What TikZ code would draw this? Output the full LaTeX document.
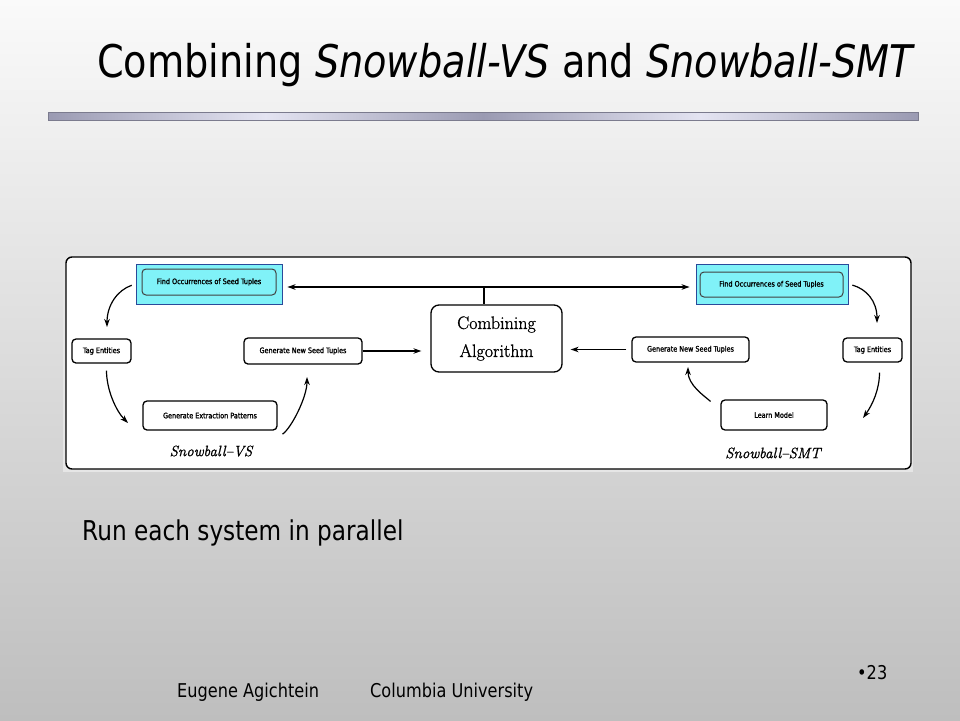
\documentclass[tikz,border=0pt]{standalone}
\usepackage{fontspec}
\setmainfont{DejaVu Sans}[FakeStretch=0.85]
\newfontfamily\lmserif{Latin Modern Roman}
\newfontfamily\lmbold{Latin Modern Roman}[FakeBold=1.2]
\newfontfamily\tinysans{DejaVu Sans}[FakeStretch=0.85,FakeBold=1.5]
\usetikzlibrary{arrows.meta,calc}
\definecolor{bgtop}{HTML}{FAFAFA}
\definecolor{bgbot}{HTML}{BEBEBE}
\definecolor{bardark}{HTML}{9A9AB2}
\definecolor{barlight}{HTML}{E4E4F2}
\definecolor{cyanfill}{HTML}{80F2F8}
\definecolor{cyanedge}{HTML}{2A4A9A}
\definecolor{imgmargin}{HTML}{E6E6E6}
\tikzset{
  stepbox/.style={draw=black, line width=1.3pt, rounded corners=4pt, fill=white, inner sep=0pt,
    font=\tinysans\fontsize{7.6}{8}\selectfont},
  cyanbox/.style={draw=cyanedge, line width=0.9pt, fill=cyanfill, inner sep=0pt},
  innerbox/.style={draw=black!75, line width=1pt, rounded corners=4pt, inner sep=0pt,
    font=\tinysans\fontsize{7.6}{8}\selectfont},
  arr/.style={line width=1.2pt, -{Stealth[length=8pt,width=5.5pt]}},
  plain/.style={line width=1.2pt},
  syslabel/.style={font=\lmbold\itshape\fontsize{15}{16}\selectfont},
}
\begin{document}
\begin{tikzpicture}[x=1pt,y=-1pt]
\shade[top color=bgtop, bottom color=bgbot] (0,0) rectangle (960,720);
\useasboundingbox (0,0) rectangle (960,720);

% title
\node[anchor=base west, inner sep=0pt, font=\fontsize{45}{48}\selectfont] (title) at (97,77)
  {Combining \textit{Snowball-VS} and \textit{Snowball-SMT}};
% rule bar
\shade[left color=bardark, right color=bardark, middle color=barlight] (48,112) rectangle (483,120);
\shade[left color=bardark, right color=bardark, middle color=barlight] (483,112) rectangle (918,120);
\draw[bardark!80!black, line width=0.6pt] (48,112) rectangle (918,120);

% embedded diagram
\fill[imgmargin] (63,254) rectangle (913,472);
\draw[line width=1.4pt, rounded corners=6pt, fill=white] (66,257) rectangle (911,469);

\node[cyanbox, minimum width=146pt, minimum height=40pt] (findL) at (209,284) {};
\node[innerbox, minimum width=134pt, minimum height=26pt] (findLi) at (209,282) {Find Occurrences of Seed Tuples};
\node[cyanbox, minimum width=152pt, minimum height=40pt] (findR) at (772,284) {};
\node[innerbox, minimum width=143pt, minimum height=25pt] (findRi) at (771.5,284.5) {Find Occurrences of Seed Tuples};

\node[stepbox, minimum width=59pt, minimum height=24pt] (tagL) at (101.5,351) {Tag Entities};
\node[stepbox, minimum width=118pt, minimum height=26pt] (genNewL) at (303,351) {Generate New Seed Tuples};
\node[stepbox, minimum width=134pt, minimum height=29pt] (genExt) at (210,415.5) {Generate Extraction Patterns};
\node[stepbox, rounded corners=8pt, minimum width=131pt, minimum height=67pt,
  font=\lmbold\fontsize{18}{28}\selectfont, align=center] (comb) at (496.5,338.5) {Combining\\Algorithm};
\node[stepbox, minimum width=117pt, minimum height=25pt] (genNewR) at (690.5,349.5) {Generate New Seed Tuples};
\node[stepbox, minimum width=59pt, minimum height=24pt] (tagR) at (872.5,350) {Tag Entities};
\node[stepbox, minimum width=106pt, minimum height=30pt] (learn) at (774,415) {Learn Model};

\node[syslabel] (vs) at (211,451) {Snowball\textendash VS};
\node[syslabel] (smt) at (773,453) {Snowball\textendash SMT};

% combining connectors
\coordinate (junc) at (484,287);
\draw[plain] (junc) -- (junc |- comb.north);
\draw[arr, shorten >=5pt] (junc) -- (junc -| findL.east);
\draw[arr, shorten >=6pt] (junc) -- (junc -| findR.west);
\draw[arr, shorten >=9pt] (genNewL.east) -- (comb.west |- genNewL.east);
\draw[arr, shorten >=8pt, shorten <=5pt] (genNewR.west) -- (comb.east |- genNewR.west);

% left cycle
\coordinate (t1) at (107,327);
\coordinate (t2) at (128,423);
\coordinate (t3) at (307,377);
\draw[arr, shorten <=4pt] (findL.west) .. controls +(-18,6) and +(0,-22) .. (t1);
\draw[arr, shorten <=7pt] ([xshift=5pt]tagL.south) .. controls +(0,26) and +(-12,-12) .. (t2);
\draw[arr, shorten <=6pt] ([yshift=-7pt]genExt.south east) .. controls +(14,-10) and +(0,20) .. (t3);

% right cycle
\coordinate (t4) at (877,323);
\coordinate (t5) at (863,418);
\coordinate (t6) at (688,367);
\draw[arr, shorten <=4pt] (findR.east) .. controls +(18,5) and +(0,-22) .. (t4);
\draw[arr, shorten <=10pt] ([xshift=7pt]tagR.south) .. controls +(0,26) and +(10,-14) .. (t5);
\draw[arr, shorten <=13pt] ([yshift=5pt]learn.west) .. controls +(-16,-14) and +(0,18) .. (t6);

% body text
\node[anchor=base west, inner sep=0pt, font=\fontsize{27.3}{32}\selectfont] (run) at (82,540) {Run each system in parallel};
% footer
\node[anchor=base west, inner sep=0pt, font=\fontsize{19}{22}\selectfont] (auth) at (177,697) {Eugene Agichtein};
\node[anchor=base west, inner sep=0pt, font=\fontsize{19}{22}\selectfont] (univ) at (370,697) {Columbia University};
\node[anchor=base west, inner sep=0pt, font=\fontsize{19}{22}\selectfont] (page) at (857,679) {•23};
\end{tikzpicture}
\end{document}
